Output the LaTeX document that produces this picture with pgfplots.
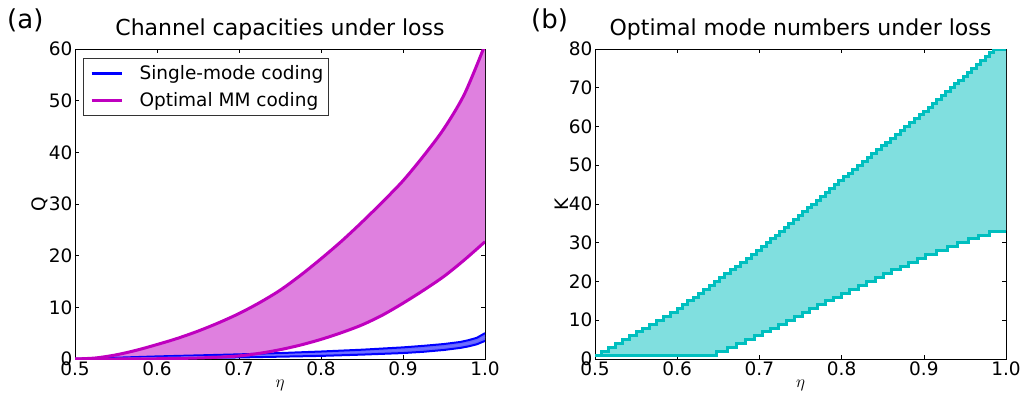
\documentclass[border=0pt]{standalone}
\usepackage{fontspec}
\setmainfont{DejaVu Sans}
\usepackage{pgfplots}
\pgfplotsset{compat=1.18}
\usepgfplotslibrary{fillbetween}
\definecolor{mag}{rgb}{0.75,0,0.75}
\definecolor{magfill}{rgb}{0.875,0.5,0.875}
\definecolor{cyl}{rgb}{0,0.75,0.75}
\definecolor{cyfill}{rgb}{0.5,0.875,0.875}
\pgfplotstableread{
x y
0.5 0
0.525 0.2
0.55 0.8
0.575 1.7
0.6 2.8
0.625 4.0
0.65 5.4
0.675 7.0
0.7 8.8
0.725 10.9
0.75 13.3
0.775 16.2
0.8 19.4
0.825 22.8
0.85 26.5
0.875 30.4
0.9 34.5
0.925 39.3
0.95 44.6
0.975 51.3
1.0 60.8
}\mmupper
\pgfplotstableread{
x y
0.5 0
0.55 0
0.6 0.05
0.625 0.1
0.65 0.2
0.675 0.35
0.7 0.6
0.725 1.1
0.75 1.8
0.775 2.7
0.8 3.8
0.825 5.1
0.85 6.6
0.875 8.5
0.9 10.8
0.925 13.3
0.95 16.0
0.975 19.2
1.0 22.7
}\mmlower
\pgfplotstableread{
x y
0.5 1
0.5083 2
0.5167 3
0.525 4
0.5333 5
0.5417 6
0.55 7
0.5583 8
0.5667 9
0.575 10
0.5833 11
0.5917 12
0.6 13
0.6065 14
0.6129 15
0.6194 16
0.6258 17
0.6323 18
0.6387 19
0.6452 20
0.6516 21
0.6581 22
0.6645 23
0.6710 24
0.6774 25
0.6839 26
0.6903 27
0.6968 28
0.7028 29
0.7083 30
0.7138 31
0.7193 32
0.7249 33
0.7304 34
0.7359 35
0.7414 36
0.7470 37
0.7525 38
0.7580 39
0.7635 40
0.7691 41
0.7746 42
0.7801 43
0.7856 44
0.7912 45
0.7967 46
0.8023 47
0.8080 48
0.8138 49
0.8195 50
0.8253 51
0.8310 52
0.8368 53
0.8425 54
0.8483 55
0.8540 56
0.8598 57
0.8655 58
0.8713 59
0.8770 60
0.8828 61
0.8885 62
0.8943 63
0.9000 64
0.9053 65
0.9106 66
0.9160 67
0.9213 68
0.9266 69
0.9319 70
0.9372 71
0.9426 72
0.9479 73
0.9532 74
0.9585 75
0.9638 76
0.9691 77
0.9745 78
0.9798 79
0.9851 80
1.0 80
}\kupper
\pgfplotstableread{
x y
0.5 1
0.648 2
0.6609 3
0.6717 4
0.6826 5
0.6935 6
0.7038 7
0.7135 8
0.7231 9
0.7327 10
0.7423 11
0.7519 12
0.7615 13
0.7712 14
0.7808 15
0.7904 16
0.8 17
0.8102 18
0.8204 19
0.8306 20
0.8408 21
0.8510 22
0.8612 23
0.8714 24
0.8816 25
0.8918 26
0.9026 27
0.9155 28
0.9284 29
0.9413 30
0.9542 31
0.9671 32
0.98 33
1.0 33
}\klower
\pgfplotstableread{
x y
0.5 0
0.55 0.25
0.6 0.5
0.65 0.7
0.7 0.9
0.75 1.15
0.8 1.45
0.85 1.8
0.9 2.25
0.925 2.55
0.95 2.9
0.97 3.3
0.98 3.65
0.99 4.1
1.0 5.0
}\bupper
\pgfplotstableread{
x y
0.5 0
0.55 0.05
0.6 0.1
0.65 0.2
0.7 0.3
0.75 0.45
0.8 0.6
0.85 0.85
0.9 1.15
0.925 1.4
0.95 1.75
0.97 2.15
0.98 2.45
0.99 2.85
1.0 3.5
}\blower
\pgfplotstableread{
x y
0.5 0
0.55 0.15
0.6 0.3
0.65 0.45
0.7 0.6
0.75 0.8
0.8 1.03
0.85 1.32
0.9 1.7
0.925 1.97
0.95 2.32
0.97 2.72
0.98 3.05
0.99 3.47
1.0 4.25
}\bmid
\begin{document}
\begin{tikzpicture}
\pgfplotsset{panel/.style={
  scale only axis, height=310pt, anchor=south west,
  xmin=0.5, xmax=1.0, xtick={0.5,0.6,0.7,0.8,0.9,1.0},
  xticklabels={0.5,0.6,0.7,0.8,0.9,1.0},
  /pgf/number format/assume math mode=true,
  tick align=inside, major tick length=4pt,
  tick style={black, line width=0.6pt},
  axis line style={line width=0.8pt},
  ticklabel style={font=\fontsize{18.5}{20}\selectfont},
  xticklabel style={yshift=1pt},
  yticklabel style={xshift=1pt},
  xlabel={$\eta$}, xlabel style={font=\fontsize{18}{19}\selectfont, at={(axis description cs:0.5,0)}, anchor=center, yshift=-26pt},
  ylabel style={font=\fontsize{18.5}{20}\selectfont, yshift=-6pt},
  title style={font=\fontsize{22}{24}\selectfont, at={(0.5,1)}, anchor=base, yshift=8pt},
}}
\begin{axis}[panel, at={(75pt,33pt)}, width=410pt,
  ymin=0, ymax=60, ytick={0,10,20,30,40,50,60}, ylabel={Q},
  title={Channel capacities under loss},
  legend cell align=left,
  legend image code/.code={\path[draw=none, fill=none] (-5pt,0pt) -- (46pt,0pt); \draw[#1, line width=3pt] (0pt,0pt) -- (30pt,0pt);},
  legend style={at={(0.02,0.971)}, anchor=north west, draw=black!80, line width=0.6pt,
    font=\fontsize{18.5}{20}\selectfont, inner xsep=3pt, inner ysep=5.5pt, row sep=7pt}]
\addplot[blue, line width=2pt, name path=bu] table {\bupper};
\addlegendentry{Single-mode coding}
\addplot[blue, line width=2pt, name path=bl, forget plot] table {\blower};
\addplot[blue, fill opacity=0.6, forget plot] fill between[of=bu and bl];
\addplot[blue!55, line width=1pt, forget plot] table {\bmid};
\addplot[draw=none, smooth, name path=mu, forget plot] table {\mmupper};
\addplot[draw=none, smooth, name path=ml, forget plot] table {\mmlower};
\addplot[magfill, forget plot] fill between[of=mu and ml];
\addplot[mag, smooth, line width=3pt] table {\mmupper};
\addlegendentry{Optimal MM coding}
\addplot[mag, smooth, line width=3pt, forget plot] table {\mmlower};
\end{axis}
\begin{axis}[panel, at={(595pt,33pt)}, width=411pt,
  ymin=0, ymax=80, ytick={0,10,20,30,40,50,60,70,80}, ylabel={K},
  title={Optimal mode numbers under loss}]
\addplot[const plot, draw=none, name path=ku] table {\kupper};
\addplot[const plot, draw=none, name path=kl] table {\klower};
\addplot[cyfill] fill between[of=ku and kl];
\addplot[const plot, cyl, line width=3pt] table {\kupper};
\addplot[const plot, cyl, line width=3pt] table {\klower};
\end{axis}
\node[anchor=base west, font=\fontsize{26}{28}\selectfont, inner sep=0pt] at (7pt,363pt) {(a)};
\node[anchor=base west, font=\fontsize{26}{28}\selectfont, inner sep=0pt] at (531pt,363pt) {(b)};
\pgfresetboundingbox
\path[use as bounding box] (0,0) rectangle (1024pt,392pt);
\end{tikzpicture}
\end{document}
